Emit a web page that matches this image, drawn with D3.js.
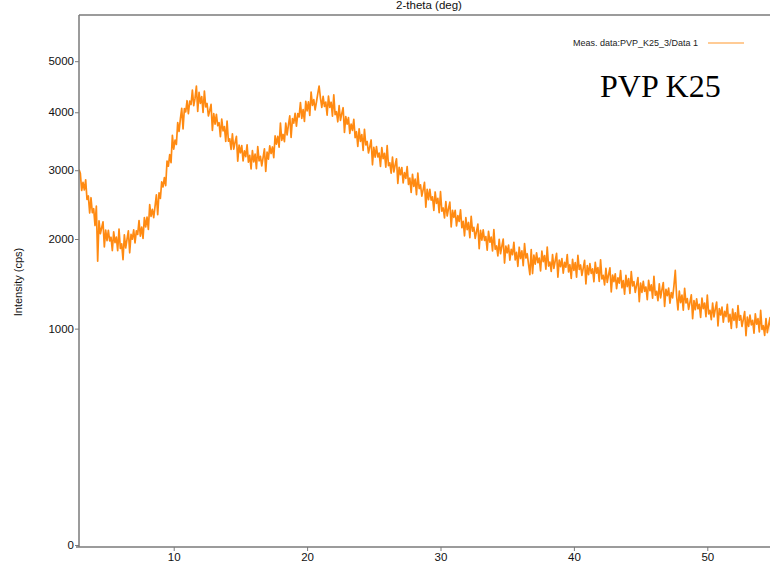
<!DOCTYPE html>
<html><head><meta charset="utf-8">
<script src="https://cdn.jsdelivr.net/npm/d3@7"></script>
<style>html,body{margin:0;padding:0;background:#fff;}svg{display:block;}</style>
</head><body>
<svg id="chart" width="770" height="569"></svg>
<script>
// ---- data ----
const twoThetaStart = 2.9;   // deg
const twoThetaStep = 0.1;    // deg
const intensity = [
3010,
2950,2684,2808,2692,2848, 2550,2602,2354,2576,2358,
2416,2180,2452,1720,2246, 2070,2150,2230,1898,2118,
1978,2114,1976,2024,1852, 2094,1954,2024,1850,2132,
1878,1936,1740,2054,1884, 1996,2108,1824,2060,1998,
2120,1948,2108,2060,2248, 2038,2160,2008,2288,2162,
2298,2128,2476,2306,2406, 2290,2450,2620,2330,2650,
2566,2816,2738,2882,2760, 3150,3064,3254,3122,3584,
3348,3502,3428,3810,3652, 3880,4072,3698,4068,4008,
4216,3972,4208,4144,4420, 4124,4264,4500,4014,4376,
4166,4296,3996,4400,4100, 4164,3932,4032,4146,3672,
3974,3782,3960,3754,3810, 3560,3876,3664,3740,3480,
3840,3482,3524,3342,3610, 3348,3462,3566,3148,3414,
3286,3406,3152,3318,3222, 3420,3130,3242,3020,3324,
3134,3264,3026,3390,3152, 3226,3070,3206,3352,2982,
3298,3180,3404,3274,3384, 3206,3574,3432,3568,3380,
3804,3498,3600,3474,3804, 3592,3768,3934,3548,3884,
3802,3980,3748,3974,3914, 4182,3888,4050,3832,4206,
4026,4196,3942,4382,4128, 4236,4044,4192,4352,4500,
4268,4090,4300,4108,4190, 3948,4302,4092,4188,3928,
4328,3954,4010,3826,4122, 3850,3974,4084,3636,3920,
3784,3902,3618,3784,3672, 3872,3544,3648,3392,3700,
3480,3598,3326,3692,3420, 3478,3282,3388,3504,3088,
3378,3214,3392,3216,3280, 3062,3372,3190,3278,3050,
3406,3072,3120,2954,3214, 2972,3084,3186,2792,3046,
2928,3044,2802,2962,2872, 3060,2776,2876,2656,2934,
2748,2858,2620,2954,2714, 2772,2600,2698,2808,2438,
2702,2548,2702,2540,2590, 2390,2662,2494,2566,2358,
2666,2380,2426,2286,2520, 2312,2416,2510,2162,2392,
2292,2392,2176,2316,2236, 2400,2150,2236,2042,2290,
2124,2222,2018,2308,2104, 2156,2008,2100,2200,1876,
2114,1984,2122,1982,2032, 1858,2102,1958,2024,1846,
2124,1868,1910,1786,1996, 1812,1908,1998,1698,1908,
1824,1922,1734,1866,1800, 1958,1737,1828,1659,1894,
1753,1848,1667,1940,1759, 1812,1681,1560,1865,1574,
1795,1684,1823,1702,1759, 1604,1845,1716,1789,1626,
1895,1662,1709,1600,1801, 1634,1728,1816,1532,1734,
1656,1752,1578,1706,1648, 1802,1592,1678,1518,1744,
1610,1703,1532,1793,1622, 1675,1552,1637,1730,1455,
1668,1560,1692,1576,1628, 1480,1705,1578,1643,1484,
1737,1513,1553,1445,1635, 1473,1561,1641,1369,1557,
1481,1571,1403,1525,1465, 1607,1413,1493,1343,1553,
1427,1515,1351,1597,1433, 1483,1364,1443,1528,1265,
1464,1363,1484,1375,1422, 1285,1496,1381,1446,1301,
1542,1333,1374,1275,1456, 1305,1392,1471,1216,1397,
1328,1410,1250,1362,1304, 1436,1610,1322,1180,1376,
1254,1334,1178,1408,1252, 1296,1185,1258,1337,1094,
1277,1182,1295,1192,1237, 1106,1303,1194,1251,1114,
1335,1141,1177,1085,1251, 1111,1190,1261,1026,1193,
1130,1208,1060,1166,1114, 1238,1064,1136,1002,1188,
1078,1152,1010,1224,1080, 1124,1020,1088,1164,936,
1110,1021,1130,1035,1078, 959,1141,1041,1095,969,
1175,993,1027,939,1095, 963,1038,1105,884,1041,
1000
];
const xTicks = [10, 20, 30, 40, 50];
const yTicks = [0, 1000, 2000, 3000, 4000, 5000];
const xDomain = [2.9, 55];
const yDomain = [0, 6000];
const xTitle = "2-theta (deg)";
const yTitle = "Intensity (cps)";
const legendLabel = "Meas. data:PVP_K25_3/Data 1";
const sampleLabel = "PVP K25";

// ---- layout ----
const svg = d3.select("#chart");
const pL = 79, pT = 15, pB = 547, pR = 774;
const x = d3.scaleLinear().domain(xDomain).range([pL, pR]);
const y = d3.scaleSqrt().domain(yDomain).range([545, pT]);
const axisColor = "#7a7a7a";
const lineColor = "#ff8a12";
const font = "'Liberation Sans', Arial, Helvetica, sans-serif";

const data = intensity.map((v, i) => ({t: twoThetaStart + i * twoThetaStep, v}));

svg.append("defs").append("clipPath").attr("id", "plotclip")
  .append("rect").attr("x", pL).attr("y", pT).attr("width", pR - pL).attr("height", pB - pT);

// curve
svg.append("path")
  .datum(data)
  .attr("clip-path", "url(#plotclip)")
  .attr("fill", "none")
  .attr("stroke", lineColor)
  .attr("stroke-width", 1.7)
  .attr("stroke-linejoin", "round")
  .attr("d", d3.line().x(d => x(d.t)).y(d => y(d.v)));

// frame top
svg.append("line").attr("x1", pL).attr("x2", 772).attr("y1", pT).attr("y2", pT)
  .attr("stroke", axisColor).attr("stroke-width", 1.5);

// x axis
const xAxis = svg.append("g").attr("transform", `translate(0,${pB})`)
  .call(d3.axisBottom(x).tickValues(xTicks).tickSize(4).tickPadding(2).tickFormat(d3.format("d")));
xAxis.select(".domain").attr("stroke", axisColor).attr("stroke-width", 1.5)
  .attr("d", `M${pL - 3},0H772`);
xAxis.selectAll(".tick line").attr("stroke", axisColor).attr("stroke-width", 1);
xAxis.selectAll("text").attr("font-family", font).attr("font-size", "11.5px").attr("fill", "#111");

// y axis
const yAxis = svg.append("g").attr("transform", `translate(${pL},0)`)
  .call(d3.axisLeft(y).tickValues(yTicks).tickSize(4).tickPadding(1).tickFormat(d3.format("d")));
yAxis.select(".domain").attr("stroke", axisColor).attr("stroke-width", 1.5)
  .attr("d", `M0,${pT}V${pB}`);
yAxis.selectAll(".tick line").attr("stroke", axisColor).attr("stroke-width", 1);
yAxis.selectAll("text").attr("font-family", font).attr("font-size", "11.5px").attr("fill", "#111");

// titles
svg.append("text").attr("x", 429).attr("y", 9).attr("text-anchor", "middle")
  .attr("font-family", font).attr("font-size", "11.5px").attr("fill", "#111").text(xTitle);
svg.append("text").attr("transform", "translate(22,282) rotate(-90)").attr("text-anchor", "middle")
  .attr("font-family", font).attr("font-size", "11px").attr("fill", "#111").text(yTitle);

// legend
svg.append("text").attr("x", 698).attr("y", 46).attr("text-anchor", "end")
  .attr("font-family", font).attr("font-size", "9px").attr("fill", "#222").text(legendLabel);
svg.append("line").attr("x1", 708).attr("x2", 744).attr("y1", 43).attr("y2", 43)
  .attr("stroke", lineColor).attr("stroke-opacity", 0.6).attr("stroke-width", 1.5);

// sample annotation
svg.append("text").attr("x", 600).attr("y", 97)
  .attr("font-family", "'Liberation Serif', 'Times New Roman', serif").attr("font-size", "32px")
  .attr("fill", "#000").text(sampleLabel);
</script>
</body></html>
